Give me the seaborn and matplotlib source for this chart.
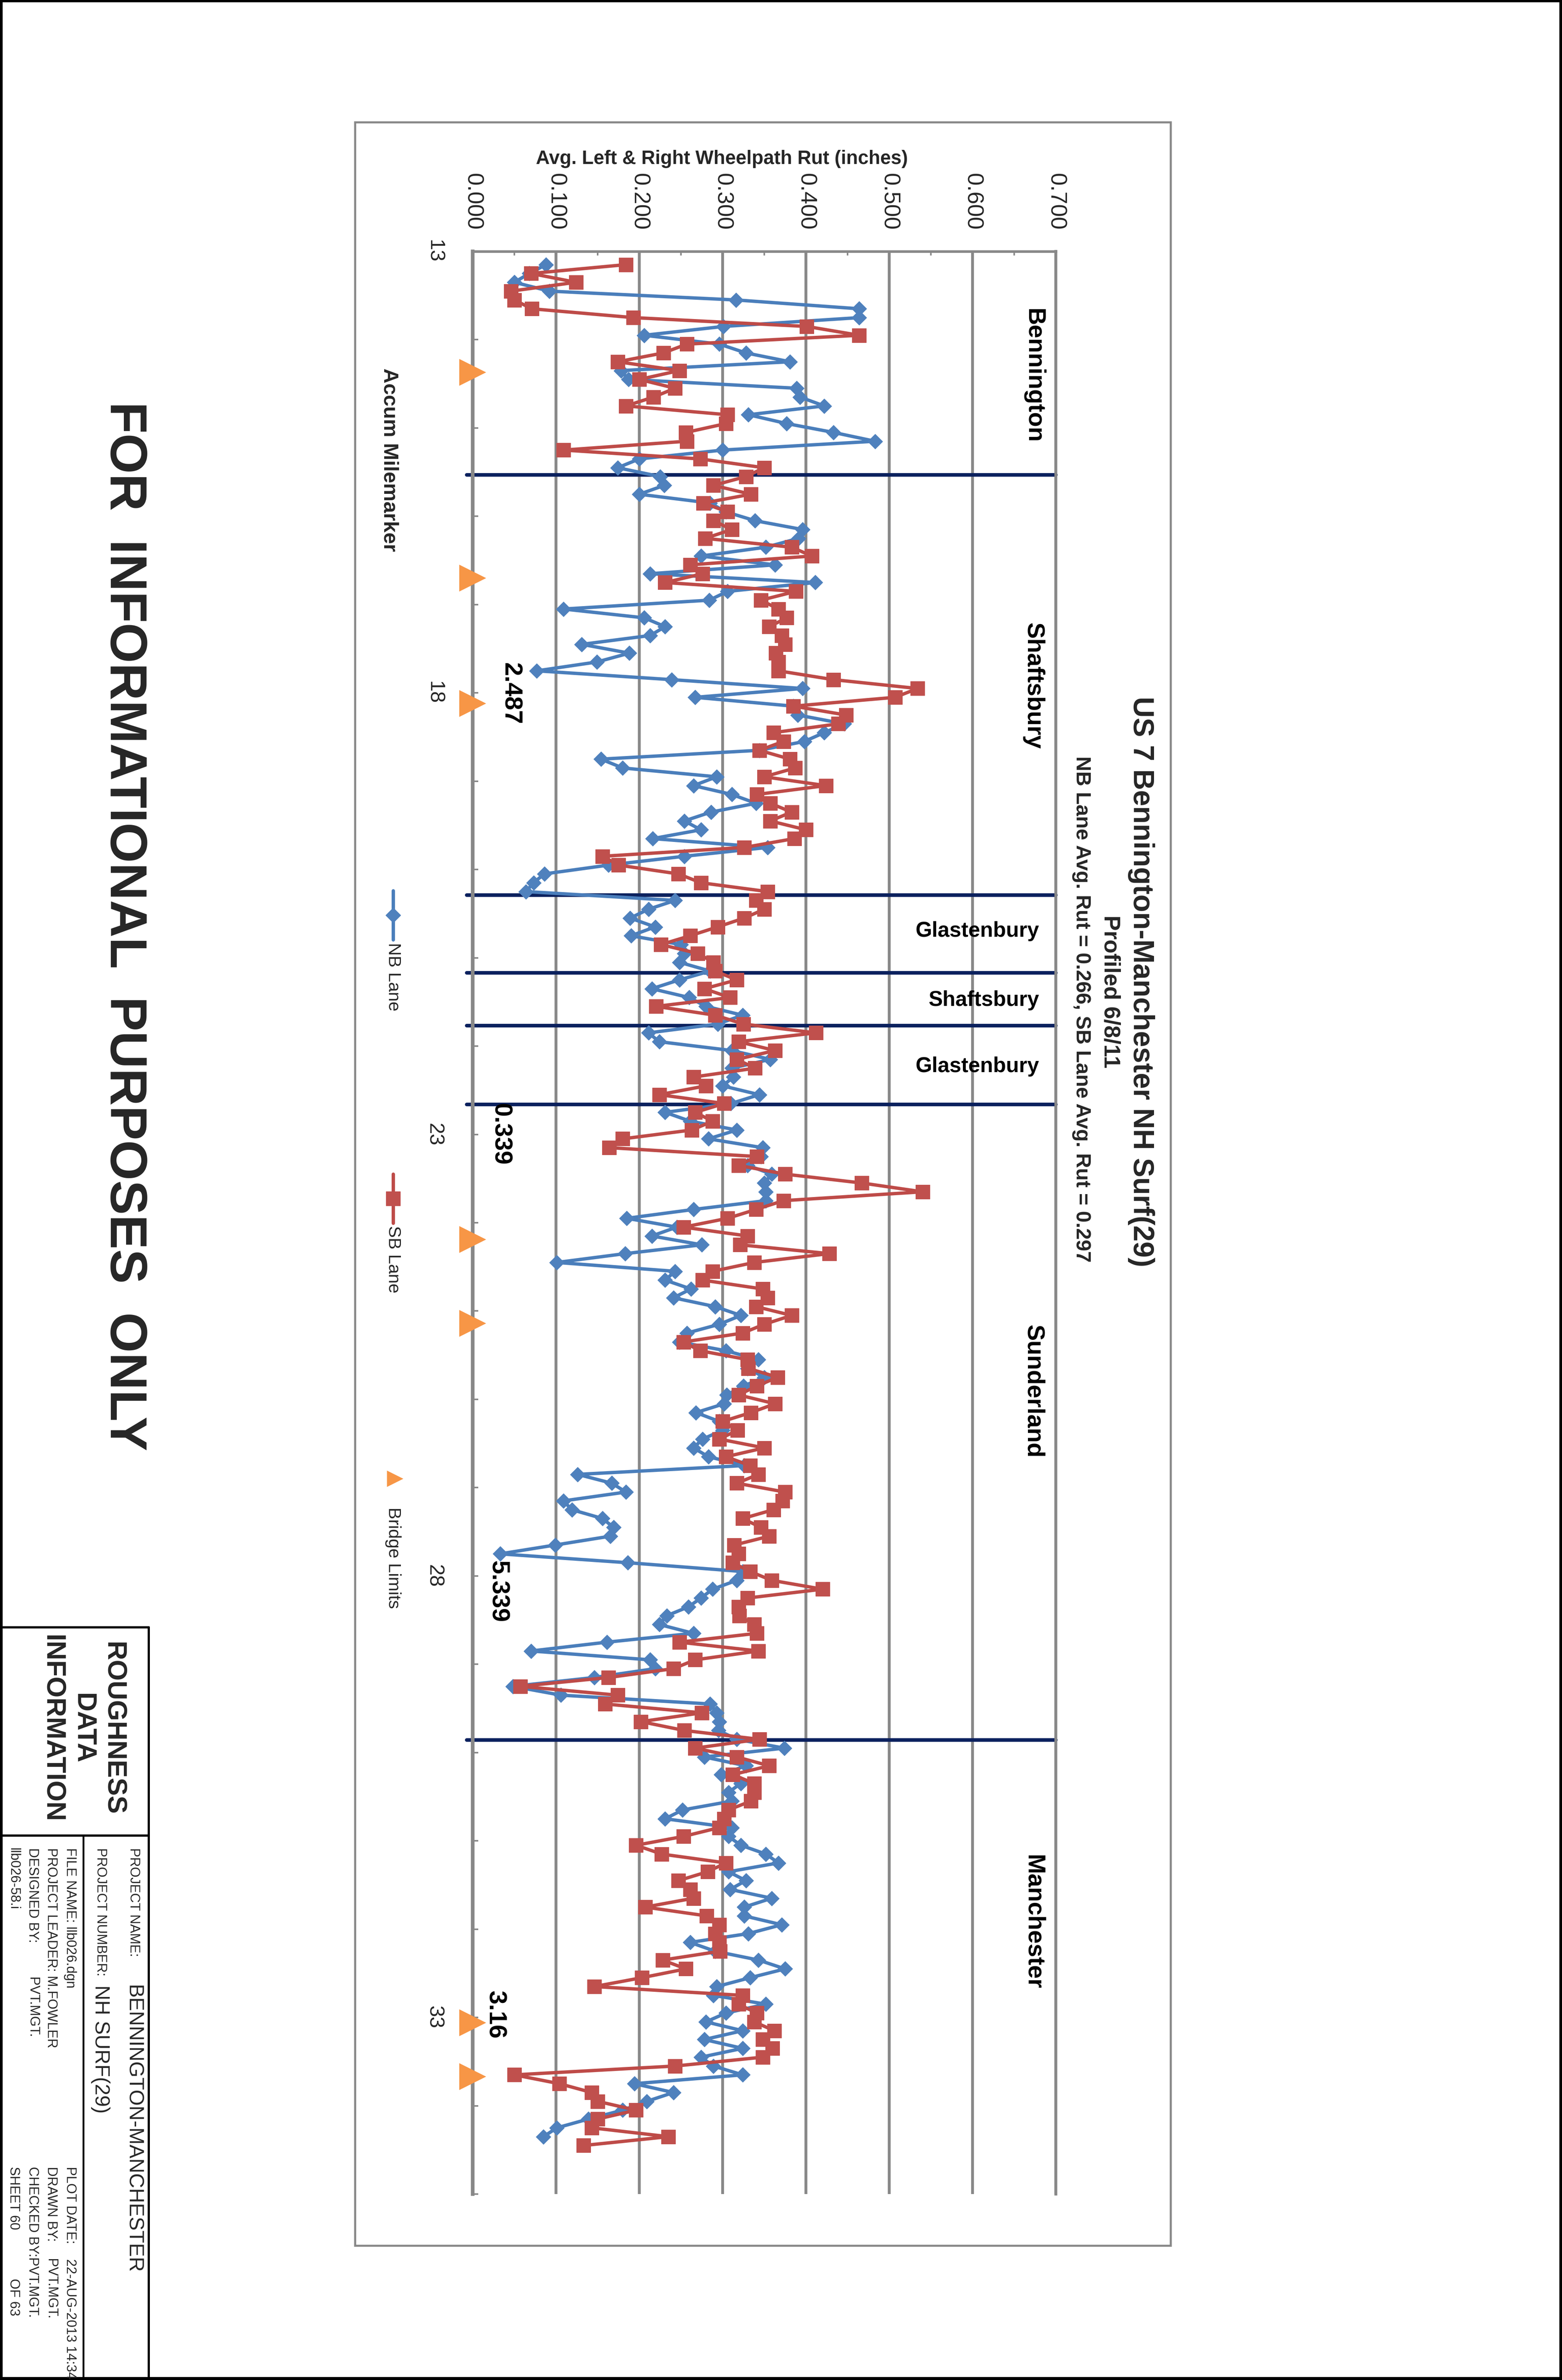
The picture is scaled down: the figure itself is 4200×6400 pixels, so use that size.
import numpy as np
import matplotlib
matplotlib.use('Agg')
import matplotlib.pyplot as plt
from matplotlib.lines import Line2D
from matplotlib.patches import Rectangle
from matplotlib.ticker import FixedLocator, FuncFormatter
import seaborn as sns

# average rut (inches) every 0.1 mile
nb_rut = [0.088, 0.068, 0.050, 0.092, 0.316, 0.464, 0.464, 0.301, 0.206, 0.296,
          0.328, 0.381, 0.178, 0.187, 0.389, 0.393, 0.422, 0.331, 0.377, 0.433,
          0.483, 0.300, 0.200, 0.174, 0.225, 0.230, 0.200, 0.285, 0.304, 0.339,
          0.396, 0.391, 0.352, 0.274, 0.363, 0.213, 0.411, 0.306, 0.284, 0.109,
          0.206, 0.231, 0.213, 0.131, 0.188, 0.149, 0.077, 0.239, 0.396, 0.267,
          0.385, 0.390, 0.446, 0.422, 0.398, 0.344, 0.154, 0.180, 0.293, 0.265,
          0.311, 0.340, 0.286, 0.254, 0.274, 0.216, 0.354, 0.254, 0.163, 0.086,
          0.073, 0.064, 0.243, 0.211, 0.189, 0.219, 0.190, 0.250, 0.254, 0.248,
          0.285, 0.248, 0.215, 0.260, 0.280, 0.324, 0.294, 0.211, 0.224, 0.311,
          0.357, 0.311, 0.313, 0.300, 0.344, 0.310, 0.231, 0.261, 0.317, 0.283,
          0.348, 0.346, 0.330, 0.359, 0.350, 0.352, 0.352, 0.265, 0.185, 0.245,
          0.215, 0.275, 0.183, 0.101, 0.243, 0.231, 0.262, 0.241, 0.291, 0.322,
          0.296, 0.257, 0.248, 0.304, 0.343, 0.330, 0.350, 0.325, 0.305, 0.302,
          0.268, 0.296, 0.300, 0.276, 0.265, 0.283, 0.326, 0.126, 0.167, 0.184,
          0.109, 0.119, 0.156, 0.169, 0.165, 0.099, 0.033, 0.186, 0.324, 0.317,
          0.288, 0.274, 0.259, 0.233, 0.224, 0.265, 0.161, 0.070, 0.213, 0.219,
          0.146, 0.048, 0.106, 0.285, 0.293, 0.296, 0.295, 0.317, 0.374, 0.278,
          0.328, 0.298, 0.322, 0.307, 0.311, 0.252, 0.231, 0.311, 0.307, 0.322,
          0.352, 0.367, 0.307, 0.328, 0.309, 0.359, 0.326, 0.326, 0.371, 0.331,
          0.261, 0.291, 0.343, 0.375, 0.333, 0.293, 0.289, 0.352, 0.304, 0.280,
          0.324, 0.278, 0.324, 0.274, 0.289, 0.324, 0.194, 0.241, 0.209, 0.180,
          0.139, 0.101, 0.085]

sb_rut = [0.184, 0.070, 0.124, 0.046, 0.050, 0.071, 0.193, 0.401, 0.464, 0.257,
          0.229, 0.174, 0.248, 0.200, 0.243, 0.217, 0.184, 0.306, 0.304, 0.256,
          0.257, 0.109, 0.273, 0.350, 0.328, 0.289, 0.334, 0.277, 0.306, 0.289,
          0.311, 0.279, 0.383, 0.407, 0.261, 0.276, 0.231, 0.388, 0.346, 0.367,
          0.377, 0.356, 0.371, 0.375, 0.364, 0.367, 0.367, 0.433, 0.534, 0.507,
          0.385, 0.448, 0.439, 0.361, 0.373, 0.344, 0.381, 0.387, 0.350, 0.424,
          0.341, 0.357, 0.383, 0.357, 0.400, 0.386, 0.326, 0.156, 0.175, 0.247,
          0.274, 0.354, 0.340, 0.350, 0.326, 0.294, 0.261, 0.226, 0.270, 0.289,
          0.291, 0.317, 0.278, 0.309, 0.220, 0.291, 0.325, 0.412, 0.319, 0.363,
          0.317, 0.339, 0.265, 0.280, 0.224, 0.302, 0.267, 0.288, 0.263, 0.180,
          0.164, 0.341, 0.319, 0.375, 0.467, 0.540, 0.373, 0.340, 0.306, 0.253,
          0.330, 0.321, 0.428, 0.338, 0.288, 0.276, 0.348, 0.354, 0.340, 0.383,
          0.350, 0.324, 0.253, 0.273, 0.330, 0.331, 0.366, 0.341, 0.319, 0.363,
          0.334, 0.300, 0.318, 0.296, 0.350, 0.304, 0.333, 0.343, 0.317, 0.375,
          0.372, 0.361, 0.324, 0.346, 0.356, 0.314, 0.319, 0.312, 0.333, 0.359,
          0.420, 0.330, 0.319, 0.320, 0.338, 0.341, 0.248, 0.343, 0.267, 0.241,
          0.163, 0.057, 0.174, 0.159, 0.275, 0.202, 0.254, 0.344, 0.267, 0.317,
          0.356, 0.312, 0.338, 0.338, 0.334, 0.307, 0.302, 0.296, 0.253, 0.196,
          0.227, 0.304, 0.282, 0.247, 0.261, 0.265, 0.207, 0.281, 0.296, 0.291,
          0.296, 0.297, 0.228, 0.256, 0.203, 0.146, 0.324, 0.319, 0.341, 0.338,
          0.362, 0.348, 0.360, 0.348, 0.243, 0.050, 0.104, 0.143, 0.150, 0.196,
          0.150, 0.143, 0.235, 0.133]

mile_start = 13.15
mile_step = 0.1
nb_miles = np.round(mile_start + mile_step * np.arange(len(nb_rut)), 2)
sb_miles = np.round(mile_start + mile_step * np.arange(len(sb_rut)), 2)

bridge_miles = [14.37, 16.70, 18.12, 24.19, 25.14, 33.06, 33.67]
town_breaks = [15.53, 20.29, 21.17, 21.77, 22.66, 29.86]
town_names = ['Bennington', 'Shaftsbury', 'Sunderland', 'Manchester']
town_miles = [14.41, 17.92, 25.91, 31.92]
short_names = ['Glastenbury', 'Shaftsbury', 'Glastenbury']
short_miles = [20.70, 21.48, 22.23]
offset_labels = ['2.487', '0.339', '5.339', '3.16']
offset_miles = [18.01, 23.00, 28.18, 32.97]
rut_ticks = [0.0, 0.1, 0.2, 0.3, 0.4, 0.5, 0.6, 0.7]

NB_LINE, NB_MARK = '#4A7EBB', '#4F81BD'
SB_LINE, SB_MARK = '#BE4B48', '#C0504D'
ORANGE = '#F79646'
GRID = '#888888'
NAVY = '#0B215E'

sns.set_theme(style='white')
plt.rcParams['font.family'] = ['Liberation Sans Narrow', 'Liberation Sans', 'DejaVu Sans']
WIDE = ['Liberation Sans', 'DejaVu Sans']

W, H = 4200, 6400
fig = plt.figure(figsize=(42, 64), dpi=100)
fig.patch.set_facecolor('white')


def fx(x):
    return x / W


def fy(y):
    return 1 - y / H


ax = fig.add_axes([fx(1271), fy(5900), (2839 - 1271) / W, (5900 - 676) / H])
ax.set_facecolor('white')

sns.lineplot(x=nb_rut, y=nb_miles, orient='y', ax=ax, color=NB_LINE, lw=6.5,
             marker='D', markersize=20, markerfacecolor=NB_MARK,
             markeredgecolor=NB_MARK, errorbar=None, legend=False, zorder=3)
sns.lineplot(x=sb_rut, y=sb_miles, orient='y', ax=ax, color=SB_LINE, lw=6.5,
             marker='s', markersize=27, markerfacecolor=SB_MARK,
             markeredgecolor=SB_MARK, errorbar=None, legend=False, zorder=4)
sns.scatterplot(x=[0.0] * len(bridge_miles), y=bridge_miles, ax=ax, marker='>',
                s=52 ** 2, color=ORANGE, edgecolor='none', clip_on=False,
                legend=False, zorder=6)

for m in town_breaks:
    ax.axhline(m, xmin=-0.01, xmax=1.0, color=NAVY, lw=7, zorder=2.5, clip_on=False)

ax.set_xlim(0, 0.7)
ax.set_ylim(35, 13)
ax.set_xlabel('')
ax.set_ylabel('')

ax.xaxis.tick_top()
ax.set_xticks(rut_ticks)
ax.set_xticklabels(['{:.3f}'.format(v) for v in rut_ticks])
ax.xaxis.set_minor_locator(FixedLocator(np.arange(0.05, 0.7, 0.1)))
ax.tick_params(axis='x', which='major', length=0, pad=41, labelsize=44,
               labelrotation=270, top=True, bottom=False)
ax.tick_params(axis='x', which='minor', direction='in', length=8, width=3,
               color=GRID, top=True, bottom=False)
ax.grid(axis='x', color=GRID, lw=5.5, zorder=1)
ax.grid(axis='y', visible=False)

ax.yaxis.set_major_locator(FixedLocator(np.arange(13, 36, 1)))
ax.yaxis.set_major_formatter(FuncFormatter(
    lambda v, p: '{:d}'.format(int(round(v))) if int(round(v)) % 5 == 3 else ''))
ax.tick_params(axis='y', which='major', direction='in', length=11, width=3,
               color=GRID, pad=56, labelsize=40, left=True, right=False)
for lab in ax.get_yticklabels():
    lab.set_rotation(270)
    lab.set_va('center')

for side in ['left', 'top', 'right']:
    ax.spines[side].set_visible(True)
    ax.spines[side].set_color(GRID)
ax.spines['left'].set_linewidth(7)
ax.spines['top'].set_linewidth(5)
ax.spines['right'].set_linewidth(5.5)
ax.spines['bottom'].set_visible(False)

for name, m in zip(town_names, town_miles):
    ax.text(0.673, m, name, rotation=270, ha='center', va='center',
            fontsize=47, fontweight='bold', color='black')
for name, m in zip(short_names, short_miles):
    ax.text(0.680, m, name, ha='right', va='center', fontsize=41,
            fontweight='bold', family=WIDE, color='black')
for lab, m, xv in zip(offset_labels, offset_miles, [0.045, 0.033, 0.030, 0.027]):
    ax.text(xv, m, lab, rotation=270, ha='center', va='center', fontsize=48,
            fontweight='bold', color='black')

# chart texts outside the plot
fig.text(fx(1941), fy(428), 'Avg. Left & Right Wheelpath Rut (inches)',
         ha='center', va='center', fontsize=37, fontweight='bold')
fig.text(fx(1047), fy(1237), 'Accum Milemarker', rotation=270, ha='center',
         va='center', fontsize=40, fontweight='bold')
fig.text(fx(3069), fy(2640), 'US 7 Bennington-Manchester NH Surf(29)',
         rotation=270, ha='center', va='center', fontsize=56, fontweight='bold')
fig.text(fx(2985), fy(2667), 'Profiled 6/8/11', rotation=270, ha='center',
         va='center', fontsize=44, fontweight='bold')
fig.text(fx(2908), fy(2714), 'NB Lane Avg. Rut = 0.266, SB Lane Avg. Rut = 0.297',
         rotation=270, ha='center', va='center', fontsize=40, fontweight='bold')

# legend drawn by hand, rotated like the chart
lx = fx(1057)
fig.add_artist(Line2D([lx, lx], [fy(2395), fy(2527)], transform=fig.transFigure,
                      color=NB_LINE, lw=6.5))
fig.add_artist(Line2D([lx], [fy(2461)], transform=fig.transFigure, marker='D',
                      markersize=20, color=NB_MARK, lw=0))
fig.text(lx, fy(2535), 'NB Lane', rotation=270, ha='center', va='top',
         fontsize=34, family=WIDE)
fig.add_artist(Line2D([lx, lx], [fy(3157), fy(3289)], transform=fig.transFigure,
                      color=SB_LINE, lw=6.5))
fig.add_artist(Line2D([lx], [fy(3223)], transform=fig.transFigure, marker='s',
                      markersize=27, color=SB_MARK, lw=0))
fig.text(lx, fy(3296), 'SB Lane', rotation=270, ha='center', va='top',
         fontsize=34, family=WIDE)
fig.add_artist(Line2D([fx(1062)], [fy(3976)], transform=fig.transFigure, marker='>',
                      markersize=32, color=ORANGE, markeredgecolor='none', lw=0))
fig.text(lx, fy(4053), 'Bridge Limits', rotation=270, ha='center', va='top',
         fontsize=34, family=WIDE)

# chart area frame
fig.add_artist(Rectangle((fx(955), fy(6039)), (3148 - 955) / W, (6039 - 329) / H,
                         transform=fig.transFigure, fill=False, ec=GRID, lw=4))


def hline(y, x0, x1, lw=4.3):
    fig.add_artist(Line2D([fx(x0), fx(x1)], [fy(y), fy(y)],
                          transform=fig.transFigure, color='black', lw=lw))


def vline(x, y0, y1, lw=4.3):
    fig.add_artist(Line2D([fx(x), fx(x)], [fy(y0), fy(y1)],
                          transform=fig.transFigure, color='black', lw=lw))


# sheet border and title block
hline(2, 0, W, lw=6)
hline(6397, 0, W, lw=8)
vline(3, 0, H, lw=6)
vline(4197, 0, H, lw=6)
hline(4376, 0, 400)
hline(4936, 0, 400)
vline(400, 4376, H)
vline(224, 4936, H, lw=3.6)

fig.text(fx(333), fy(2491), 'FOR  INFORMATIONAL  PURPOSES  ONLY', rotation=270,
         ha='center', va='center', fontsize=100, fontweight='bold', family=WIDE)

for txt, xc in [('ROUGHNESS', 305), ('DATA', 223), ('INFORMATION', 141)]:
    fig.text(fx(xc), fy(4648), txt, rotation=270, ha='center', va='center',
             fontsize=52, fontweight='bold')


def block(x, y, s, size=26):
    fig.text(fx(x), fy(y), s, rotation=270, ha='center', va='top', fontsize=size)


block(359, 4969, 'PROJECT NAME:')
block(357, 5338, 'BENNINGTON-MANCHESTER', size=40)
block(270, 4969, 'PROJECT NUMBER:')
block(270, 5338, 'NH SURF(29)', size=40)
block(188, 4969, 'FILE NAME: llb026.dgn')
block(188, 5826, 'PLOT DATE:')
block(188, 6074, '22-AUG-2013 14:34')
block(137, 4969, 'PROJECT LEADER: M.FOWLER')
block(137, 5826, 'DRAWN BY:')
block(137, 6074, 'PVT.MGT.')
block(87, 4969, 'DESIGNED BY:')
block(87, 5317, 'PVT.MGT.')
block(87, 5826, 'CHECKED BY:PVT.MGT.')
block(36, 4969, 'llb026-58.i')
block(36, 5826, 'SHEET 60')
block(36, 6127, 'OF 63')

fig.savefig('out.png', dpi=100, facecolor='white')
